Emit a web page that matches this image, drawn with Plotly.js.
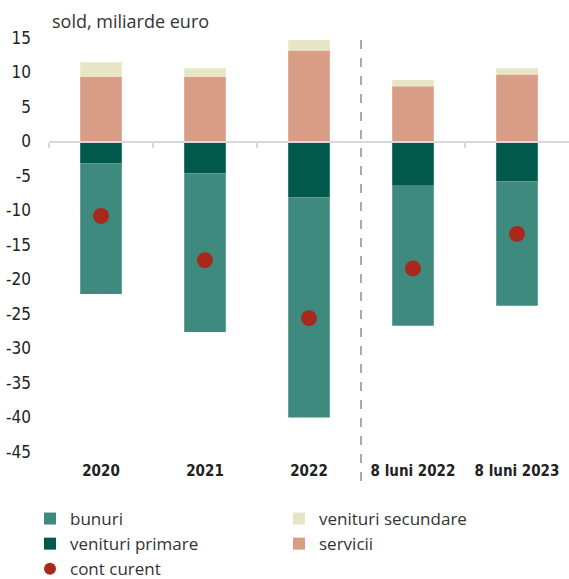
<!DOCTYPE html>
<html>
<head>
<meta charset="utf-8">
<script src="https://cdn.plot.ly/plotly-3.0.1.min.js"></script>
<style>html,body{margin:0;padding:0;background:#fff;}#chart{width:569px;height:579px;}</style>
</head>
<body>
<div id="chart"></div>
<script>
var categories = ["2020", "2021", "2022", "8 luni 2022", "8 luni 2023"];
var bunuri = [-18.9, -23.0, -31.9, -20.3, -18.0];
var venituriPrimare = [-3.2, -4.6, -8.1, -6.4, -5.8];
var servicii = [9.4, 9.4, 13.2, 8.0, 9.7];
var venituriSecundare = [2.1, 1.2, 1.5, 0.9, 0.9];
var contCurent = [-10.8, -17.2, -25.6, -18.4, -13.4];
var yTicks = [15, 10, 5, 0, -5, -10, -15, -20, -25, -30, -35, -40, -45];
var yTickLabels = ["15", "10", "5", "0", "-5", "-10", "-15", "-20", "-25", "-30", "-35", "-40", "-45"];
var separatorAfter = 2.5;

var narrow = '"Liberation Sans Narrow", "DejaVu Sans Condensed", "Roboto Condensed", Arial, sans-serif';
var light = '"Open Sans", "Noto Sans", sans-serif';

var traces = [
  {type: 'bar', name: 'venituri primare', x: categories, y: venituriPrimare,
   marker: {color: '#00594A'}, legend: 'legend', legendrank: 2},
  {type: 'bar', name: 'servicii', x: categories, y: servicii,
   marker: {color: '#D99C84'}, legend: 'legend2', legendrank: 2},
  {type: 'bar', name: 'bunuri', x: categories, y: bunuri,
   marker: {color: '#3F8A7F'}, legend: 'legend', legendrank: 1},
  {type: 'bar', name: 'venituri secundare', x: categories, y: venituriSecundare,
   marker: {color: '#E6E5C5'}, legend: 'legend2', legendrank: 1},
  {type: 'scatter', mode: 'markers', name: 'cont curent', x: categories, y: contCurent,
   marker: {color: '#A8291C', size: 16}, legend: 'legend', legendrank: 3}
];

var legendFont = {family: light, size: 17, color: '#333'};

var layout = {
  width: 569, height: 579,
  margin: {l: 49, r: 0, t: 38, b: 127, autoexpand: false},
  paper_bgcolor: '#fff', plot_bgcolor: '#fff',
  barmode: 'relative',
  bargap: 0.6,
  showlegend: true,
  title: {text: 'sold, miliarde euro', xref: 'container', x: 52/569, xanchor: 'left',
          yref: 'container', y: 1 - 22/579, yanchor: 'middle', automargin: false,
          font: {family: light, size: 18, color: '#333'}},
  xaxis: {type: 'category', range: [-0.5, 4.5], showline: false, showgrid: false,
          zeroline: false, ticks: '', ticklabelstandoff: 8, automargin: false,
          tickfont: {family: narrow, size: 15, color: '#222', weight: 'bold'}},
  xaxis2: {type: 'linear', overlaying: 'x', anchor: 'free', position: 0.75,
           range: [-0.5, 4.5], showline: true, linecolor: '#d9d9d9', linewidth: 2,
           ticks: 'outside', ticklen: 5, tickwidth: 2, tickcolor: '#d9d9d9',
           tickvals: [-0.5, 0.5, 1.5, 3.5], showticklabels: false, showgrid: false,
           zeroline: false, layer: 'above traces', automargin: false},
  yaxis: {range: [-45, 15], tickvals: yTicks, ticktext: yTickLabels, showgrid: false, zeroline: false,
          showline: false, ticks: '', ticklabelstandoff: 17, automargin: false,
          tickfont: {family: narrow, size: 17, color: '#222'}},
  legend: {orientation: 'v', xref: 'container', yref: 'container', x: 30/569, xanchor: 'left',
           y: 1 - 501/579, yanchor: 'top', traceorder: 'normal', font: legendFont,
           itemsizing: 'constant', bgcolor: 'rgba(0,0,0,0)'},
  legend2: {orientation: 'v', xref: 'container', yref: 'container', x: 279/569, xanchor: 'left',
            y: 1 - 501/579, yanchor: 'top', traceorder: 'normal', font: legendFont,
            bgcolor: 'rgba(0,0,0,0)'},
  shapes: [{type: 'line', xref: 'x', yref: 'paper', x0: separatorAfter, x1: separatorAfter,
            y0: -0.07, y1: 1, line: {color: '#aaaaaa', width: 2, dash: 'dash'}}]
};

// invisible helper trace so that xaxis2 (zero line with boundary ticks) is drawn
traces.push({type: 'scatter', x: [0], y: [0], xaxis: 'x2', mode: 'markers',
             marker: {opacity: 0}, showlegend: false, hoverinfo: 'skip'});

Plotly.newPlot('chart', traces, layout, {staticPlot: true});
</script>
</body>
</html>
